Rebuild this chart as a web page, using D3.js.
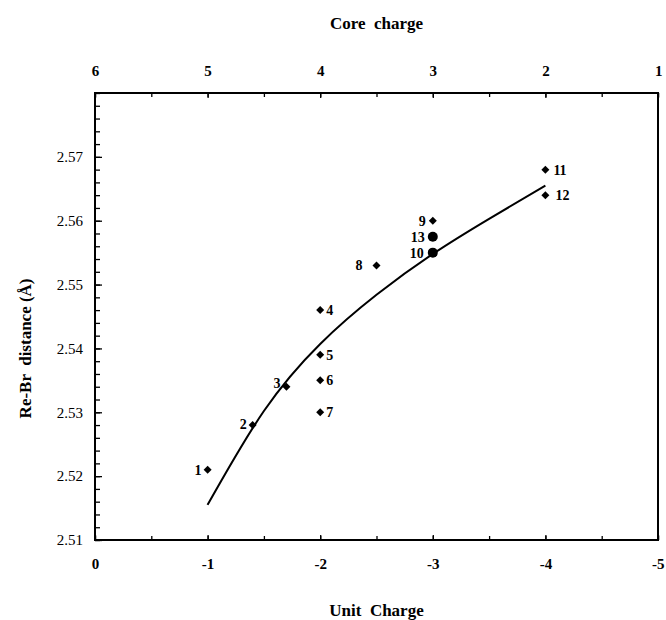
<!DOCTYPE html>
<html>
<head>
<meta charset="utf-8">
<script src="https://cdn.jsdelivr.net/npm/d3@7"></script>
<style>
  body { margin: 0; background: #fff; }
  text { font-family: "Liberation Serif", "DejaVu Serif", serif; fill: #000; white-space: pre; }
</style>
</head>
<body>
<script>
// data
var ids    = ["1", "2", "3", "4", "5", "6", "7", "8", "9", "10", "11", "12", "13"];
var charge = [-1, -1.4, -1.7, -2, -2, -2, -2, -2.5, -3, -3, -4, -4, -3];
var dist   = [2.521, 2.528, 2.534, 2.546, 2.539, 2.535, 2.530, 2.553, 2.560, 2.555, 2.568, 2.564, 2.5575];
var marker = ["d", "d", "d", "d", "d", "d", "d", "d", "d", "c", "d", "d", "c"];

// fitted curve
var fitX = [-1, -1.5, -2, -2.5, -3, -3.5, -4];
var fitY = [2.5155, 2.5302, 2.5407, 2.5484, 2.5548, 2.5603, 2.5655];

var unitTicks = [0, -1, -2, -3, -4, -5];
var coreTicks = [6, 5, 4, 3, 2, 1];
var distTicks = [2.51, 2.52, 2.53, 2.54, 2.55, 2.56, 2.57];

// label placement (dx, dy, anchor) per point
var labelPos = {
  "1": [-6, 0, "end"], "2": [-6, -1, "end"], "3": [-6, -4, "end"],
  "4": [6, 0, "start"], "5": [6, 0, "start"], "6": [6, 0, "start"], "7": [6, 0, "start"],
  "8": [-14, 0, "end"], "9": [-7, 0, "end"], "10": [-9, 0, "end"], "13": [-8, 0, "end"],
  "11": [8, 0, "start"], "12": [10, 0, "start"]
};

var width = 666, height = 620;
var mLeft = 95, mRight = 658, mTop = 93, mBottom = 540;

var svg = d3.select("body").append("svg")
    .attr("width", width)
    .attr("height", height);

var x = d3.scaleLinear().domain([0, -5]).range([mLeft, mRight]);
var xTop = d3.scaleLinear().domain([6, 1]).range([mLeft, mRight]);
var y = d3.scaleLinear().domain([2.51, 2.58]).range([mBottom, mTop]);

// minor ticks
var halfSteps = d3.range(0, -5.01, -0.5);
var coreHalf = d3.range(6, 0.99, -0.5);
var yMinor = d3.range(2.51, 2.5801, 0.002);

svg.append("g")
    .attr("transform", "translate(0," + mBottom + ")")
    .call(d3.axisBottom(x).tickValues(halfSteps).tickSize(-4).tickFormat(""))
    .call(function(g) { g.select(".domain").remove(); });

svg.append("g")
    .attr("transform", "translate(0," + mTop + ")")
    .call(d3.axisTop(xTop).tickValues(coreHalf).tickSize(-4).tickFormat(""))
    .call(function(g) { g.select(".domain").remove(); });

svg.append("g")
    .attr("transform", "translate(" + mLeft + ",0)")
    .call(d3.axisLeft(y).tickValues(yMinor).tickSize(-5).tickFormat(""))
    .call(function(g) { g.select(".domain").remove(); });

// major ticks with labels
var bottomAxis = svg.append("g")
    .attr("transform", "translate(0," + mBottom + ")")
    .call(d3.axisBottom(x).tickValues(unitTicks).tickSize(-5).tickPadding(18)
      .tickFormat(function(d) { return d === 0 ? "0" : "-" + Math.abs(d); }));

var topAxis = svg.append("g")
    .attr("transform", "translate(0," + mTop + ")")
    .call(d3.axisTop(xTop).tickValues(coreTicks).tickSize(-5).tickPadding(17)
      .tickFormat(d3.format("d")));

var leftAxis = svg.append("g")
    .attr("transform", "translate(" + mLeft + ",0)")
    .call(d3.axisLeft(y).tickValues(distTicks).tickSize(-7).tickPadding(12)
      .tickFormat(d3.format(".2f")));

[bottomAxis, topAxis, leftAxis].forEach(function(g) {
  g.select(".domain").remove();
  g.selectAll("text")
      .style("font-family", "'Liberation Serif', serif")
      .style("font-size", "15px");
});
bottomAxis.selectAll("text").style("font-weight", "bold");
topAxis.selectAll("text").style("font-weight", "bold");
// keep the last labels inside the page
bottomAxis.selectAll("text").filter(function(d) { return d === -5; })
    .attr("text-anchor", "end").attr("x", 6);
topAxis.selectAll("text").filter(function(d) { return d === 1; })
    .attr("text-anchor", "end").attr("x", 4);
svg.selectAll(".tick line").attr("stroke", "#000").attr("stroke-width", 1.3);

// frame
svg.append("rect")
    .attr("x", mLeft)
    .attr("y", mTop)
    .attr("width", mRight - mLeft)
    .attr("height", mBottom - mTop)
    .attr("fill", "none")
    .attr("stroke", "#000")
    .attr("stroke-width", 2);

// fitted curve
var line = d3.line()
    .x(function(d) { return x(d[0]); })
    .y(function(d) { return y(d[1]); })
    .curve(d3.curveNatural);

svg.append("path")
    .datum(d3.zip(fitX, fitY))
    .attr("d", line)
    .attr("fill", "none")
    .attr("stroke", "#000")
    .attr("stroke-width", 2);

// points
var points = ids.map(function(id, i) {
  return { id: id, x: charge[i], y: dist[i], m: marker[i] };
});

var diamond = d3.symbol().type(d3.symbolSquare).size(32);

svg.append("g")
  .selectAll("path")
  .data(points.filter(function(d) { return d.m === "d"; }))
  .enter()
  .append("path")
    .attr("d", diamond)
    .attr("transform", function(d) { return "translate(" + x(d.x) + "," + y(d.y) + ") rotate(45)"; })
    .attr("fill", "#000");

svg.append("g")
  .selectAll("circle")
  .data(points.filter(function(d) { return d.m === "c"; }))
  .enter()
  .append("circle")
    .attr("cx", function(d) { return x(d.x); })
    .attr("cy", function(d) { return y(d.y); })
    .attr("r", 5)
    .attr("fill", "#000");

svg.append("g")
  .selectAll("text")
  .data(points)
  .enter()
  .append("text")
    .attr("x", function(d) { return x(d.x) + labelPos[d.id][0]; })
    .attr("y", function(d) { return y(d.y) + labelPos[d.id][1]; })
    .attr("dy", "0.35em")
    .attr("text-anchor", function(d) { return labelPos[d.id][2]; })
    .style("font-size", "14px")
    .style("font-weight", "bold")
    .text(function(d) { return d.id; });

// axis titles
svg.append("text")
    .attr("x", (mLeft + mRight) / 2)
    .attr("y", 23)
    .attr("dy", "0.35em")
    .attr("text-anchor", "middle")
    .style("font-size", "17px")
    .style("font-weight", "bold")
    .text("Core  charge");

svg.append("text")
    .attr("x", (mLeft + mRight) / 2)
    .attr("y", 610)
    .attr("dy", "0.35em")
    .attr("text-anchor", "middle")
    .style("font-size", "17px")
    .style("font-weight", "bold")
    .text("Unit  Charge");

svg.append("text")
    .attr("transform", "translate(25," + y(2.54) + ") rotate(-90)")
    .attr("dy", "0.35em")
    .attr("text-anchor", "middle")
    .style("font-size", "17px")
    .style("font-weight", "bold")
    .text("Re-Br  distance (Å)");
</script>
</body>
</html>
